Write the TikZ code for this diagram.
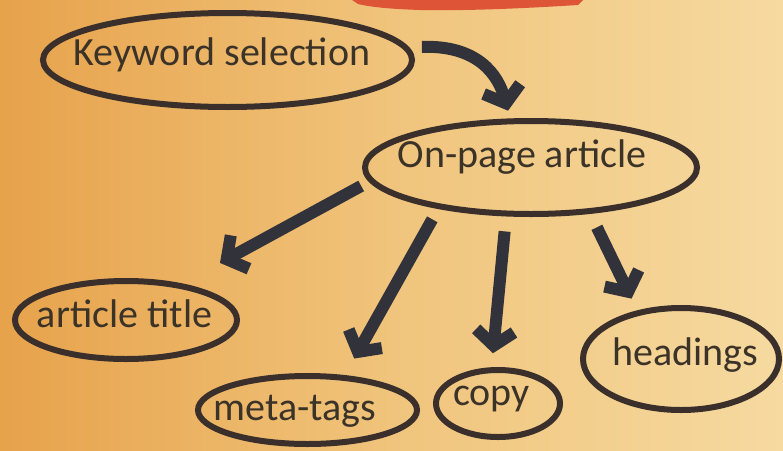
\documentclass[tikz,border=0pt]{standalone}
\usepackage{fontspec}
\setmainfont{Carlito}
\usetikzlibrary{shapes.geometric,arrows.meta}
\definecolor{paperleft}{HTML}{E7A24B}
\definecolor{papermid}{HTML}{F0C47C}
\definecolor{paperright}{HTML}{F6DAA0}
\definecolor{redpaint}{HTML}{DD5436}
\definecolor{ovalink}{HTML}{3A2F2A}
\definecolor{wordink}{HTML}{3B3228}
\definecolor{arrowink}{HTML}{32323B}

\begin{document}
\begin{tikzpicture}[x=1pt,y=-1pt,
  oval/.style={ellipse, draw=ovalink, line width=6pt, inner sep=0pt},
  word/.style={anchor=base, text=wordink, font=\fontsize{40}{48}\selectfont, inner sep=0pt},
  brush/.style={draw=arrowink, line width=12pt, -{Straight Barb[length=15pt,width=38pt]}}]
\useasboundingbox (0,0) rectangle (783,450);
\fill[left color=paperleft, right color=paperright, middle color=papermid] (0,0) rectangle (783,450);
% red paint at the top edge
\fill[redpaint] (352,0) -- (583,0) -- (578,5) .. controls (530,8) and (470,11) .. (420,10)
  .. controls (390,9) and (370,7) .. (358,4) -- cycle;

\node[oval, minimum width=369, minimum height=94] (kw) at (227.5,60) {};
\node[oval, minimum width=332, minimum height=93] (onpage) at (531,167.5) {};
\node[oval, minimum width=222, minimum height=78] (title) at (126,320) {};
\node[oval, minimum width=219, minimum height=68] (meta) at (307.5,410) {};
\node[oval, minimum width=124, minimum height=67] (copy) at (498,403.5) {};
\node[oval, minimum width=196, minimum height=102] (head) at (681,359) {};

\node[word] (kw-text) at (222,65) {Keyword selection};
\node[word] (onpage-text) at (522,167.5) {On-page article};
\node[word] (title-text) at (124.5,327) {article title};
\node[word] (meta-text) at (295,420) {meta-tags};
\node[word] (copy-text) at (491.5,405) {copy};
\node[word] (head-text) at (685.5,365) {headings};

\draw[brush, shorten <=13pt, shorten >=8pt] (kw.4) .. controls (478,45) and (498,75) .. (onpage.113);
\draw[brush, shorten <=9pt, shorten >=43pt] (onpage.185) -- (title.33);
\draw[brush, shorten <=12pt, shorten >=19pt] (onpage.204) -- (meta.43);
\draw[brush, shorten <=15pt, shorten >=14pt] (onpage.243) -- (copy.100);
\draw[brush, shorten <=15pt, shorten >=13pt] (onpage.322) -- (head.132);
\end{tikzpicture}
\end{document}
